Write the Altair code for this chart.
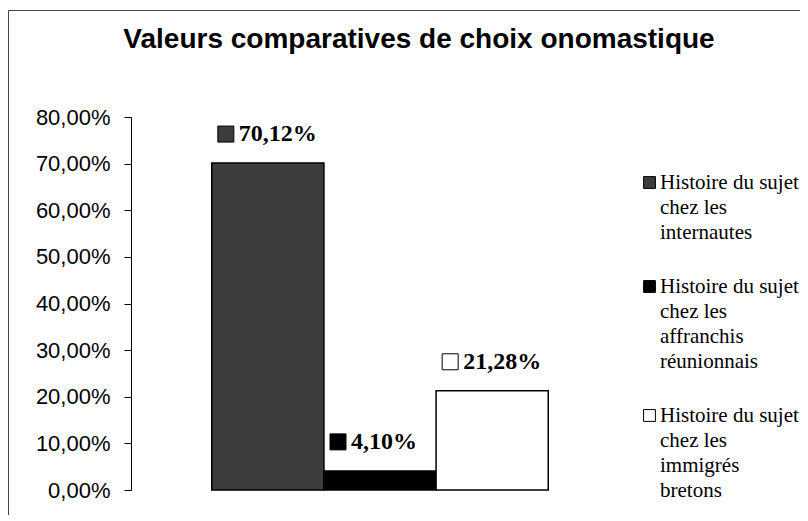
import altair as alt
import pandas as pd

# ---- data ----
categories = [
    "Histoire du sujet chez les internautes",
    "Histoire du sujet chez les affranchis réunionnais",
    "Histoire du sujet chez les immigrés bretons",
]
values = [0.7012, 0.0410, 0.2128]
fill_colors = ["#3c3c3c", "#000000", "#ffffff"]
y_ticks = [0.0, 0.1, 0.2, 0.3, 0.4, 0.5, 0.6, 0.7, 0.8]
chart_title = "Valeurs comparatives de choix onomastique"

df = pd.DataFrame({"categorie": categories, "valeur": values})

fr_pct_axis = "replace(format(datum.value, '.2%'), '.', ',')"
fr_pct_label = "replace(format(datum.valeur, '.2%'), '.', ',')"
legend_lines = ("split(replace(datum.label, regexp('(sujet|les|affranchis|immigrés) ', 'g'), '$1|'), '|')")

x_enc = alt.X(
    "categorie:N",
    sort=categories,
    scale=alt.Scale(paddingInner=0, paddingOuter=0.72),
    axis=None,
)
y_enc = alt.Y(
    "valeur:Q",
    scale=alt.Scale(domain=[0, 0.8], nice=False),
    axis=alt.Axis(
        values=y_ticks,
        labelExpr=fr_pct_axis,
        title=None,
        grid=False,
        domainColor="black",
        tickColor="black",
        tickSize=7,
        labelPadding=14,
        labelFont="Liberation Sans",
        labelFontSize=22,
        labelColor="black",
    ),
)
fill_enc = alt.Fill(
    "categorie:N",
    sort=categories,
    scale=alt.Scale(domain=categories, range=fill_colors),
    legend=alt.Legend(
        title=None,
        orient="none",
        legendX=508,
        legendY=55,
        symbolType="square",
        symbolSize=140,
        symbolStrokeColor="black",
        symbolStrokeWidth=1,
        labelFont="Liberation Serif",
        labelFontSize=21,
        labelColor="black",
        labelLimit=300,
        labelBaseline="middle",
        labelExpr=legend_lines,
        rowPadding=32,
        labelOffset=0,
        padding=0,
    ),
)

base = alt.Chart(df)

bars = base.mark_bar(stroke="black", strokeWidth=1.5).encode(x=x_enc, y=y_enc, fill=fill_enc)

labels = base.transform_calculate(label=fr_pct_label).mark_text(
    align="left",
    baseline="middle",
    dx=-29,
    dy=-29,
    font="Liberation Serif",
    fontSize=24,
    fontWeight="bold",
    color="black",
).encode(x=x_enc, y=y_enc, text="label:N")

squares = base.mark_point(
    shape="square",
    filled=True,
    size=256,
    stroke="black",
    strokeWidth=1,
    opacity=1,
    xOffset=-42,
    yOffset=-29,
).encode(x=x_enc, y=y_enc, fill=fill_enc)

frame = alt.Chart(pd.DataFrame({"k": [0]})).mark_rect(
    fill="transparent", stroke="#444444", strokeWidth=1
).encode(
    x=alt.value(-122.5), x2=alt.value(720), y=alt.value(-106.5), y2=alt.value(600)
)

chart = (
    alt.layer(frame, bars, squares, labels)
    .properties(
        width=498,
        height=373,
        title=alt.Title(
            chart_title,
            font="Liberation Sans",
            fontSize=28,
            fontWeight="bold",
            color="black",
            anchor="middle",
            dx=39,
            offset=-44,
        ),
        autosize=alt.AutoSizeParams(type="none"),
        padding={"left": 123, "top": 109, "right": 171, "bottom": 25},
    )
    .configure(
        background="white",
        view=alt.ViewConfig(stroke=None),
        style={"guide-label": {"lineHeight": 25}},
    )
)

chart.save("out.html", embed_options={"renderer": "svg", "actions": False})
